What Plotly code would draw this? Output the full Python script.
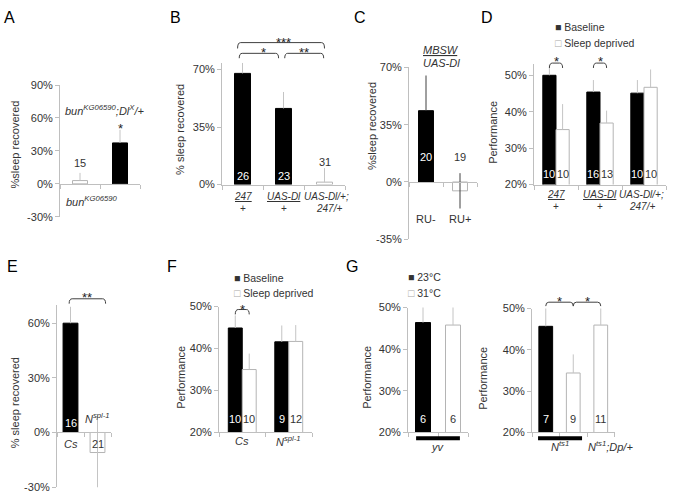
import plotly.graph_objects as go

W, H = 675, 499
FONT = "Arial, 'Liberation Sans', Helvetica, sans-serif"
TXT = "#333333"
AXC = "#bfbfbf"
ERR = "#c4c4c4"
ERR_DARK = "#404040"
BLK = "#000000"
WHT = "#ffffff"
OUTL = "#b4b4b4"
BRK = "#404040"

# ---------------- data ----------------
# A
A_vals = [3.0, 37.3]
A_err = [7.0, 12.0]
A_n = ["15", ""]
# B
B_cats_top = ["<u>247</u>", "<u>UAS-Dl</u>", "UAS-Dl/+;"]
B_cats_bot = ["+", "+", "247/+"]
B_vals = [67.6, 46.3, 1.5]
B_err = [6.4, 10.0, 8.5]
B_n = ["26", "23", "31"]
B_sig = [(0, 1, "*"), (1, 2, "**"), (0, 2, "***")]
# C
C_cats = ["RU-", "RU+"]
C_vals = [43.6, -5.4]
C_err = [21.5, 10.8]
C_n = ["20", "19"]
# D
D_cats_top = ["<u>247</u>", "<u>UAS-Dl</u>", "UAS-Dl/+;"]
D_cats_bot = ["+", "+", "247/+"]
D_base = [50.0, 45.4, 45.1]
D_base_err = [3.0, 3.3, 3.6]
D_sd = [35.1, 36.9, 46.7]
D_sd_err = [7.0, 3.4, 4.9]
D_n_base = ["10", "16", "10"]
D_n_sd = ["10", "13", "10"]
D_sig = [0, 1]
# E
E_cats = ["Cs", "N<sup>spl-1</sup>"]
E_vals = [60.0, -11.0]
E_err = [9.0, 21.0]
E_n = ["16", "21"]
# F
F_cats = ["Cs", "N<sup>spl-1</sup>"]
F_base = [44.9, 41.6]
F_base_err = [3.0, 3.9]
F_sd = [35.0, 41.7]
F_sd_err = [3.8, 3.9]
F_n_base = ["10", "9"]
F_n_sd = ["10", "12"]
F_sig = [0]
# G
G_temps = ["23°C", "31°C"]
G1_vals = [46.4, 45.8]
G1_err = [4.5, 5.0]
G1_n = ["6", "6"]
G2_vals = [45.7, 34.4, 46.0]
G2_err = [5.4, 4.5, 5.2]
G2_n = ["7", "9", "11"]
G2_sig = [(0, 1, "*"), (1, 2, "*")]

# ---------------- geometry (pixels) ----------------
PANELS = [
    ((60, 140), (0, 2), (90, 81, -30, 216), (-30, 90), [-30, 0, 30, 60, 90], True),
    ((222, 345), (0, 3), (70, 65, 0, 183), (0, 74), [0, 35, 70], False),
    ((409, 477), (0, 2), (70, 63, -35, 239), (-35, 70), [-35, 0, 35, 70], True),
    ((534, 666), (0, 3), (50, 71, 20, 183), (20, 53), [20, 30, 40, 50], False),
    ((57, 111), (0, 2), (60, 325, -30, 493), (-30, 70), [-30, 0, 30, 60], True),
    ((219, 312), (0, 2), (50, 308, 20, 437), (20, 50), [20, 30, 40, 50], False),
    ((408, 468), (0, 2), (50, 309, 20, 437), (20, 50), [20, 30, 40, 50], False),
    ((532, 614.5), (0, 3), (50, 310, 20, 437), (20, 50), [20, 30, 40, 50], False),
]


def py(p):
    return 1 - p / H


def pxp(p):
    return p / W


def ypix(i, v):
    _, _, (v1, p1, v2, p2), _, _, _ = PANELS[i]
    return p1 + (v - v1) * (p2 - p1) / (v2 - v1)


def unit(i):
    (a, b), (r0, r1), *_ = PANELS[i]
    return (b - a) / (r1 - r0)


fig = go.Figure()
layout = dict(width=W, height=H, margin=dict(l=0, r=0, t=0, b=0),
              paper_bgcolor="white", plot_bgcolor="white", barmode="overlay",
              showlegend=False, font=dict(family=FONT, size=11, color=TXT))

for i, (xs, xr, _, yr, yt, cross) in enumerate(PANELS):
    k = i + 1
    xd = [pxp(xs[0]), pxp(xs[1])]
    yd = [py(ypix(i, yr[0])), py(ypix(i, yr[1]))]
    xa = dict(domain=xd, range=list(xr), showline=True, linecolor=AXC, linewidth=1,
              ticks="outside", ticklen=4, tickcolor=AXC, tickmode="array",
              tickvals=list(range(xr[0], xr[1] + 1)), showticklabels=False,
              showgrid=False, zeroline=False, fixedrange=True)
    if cross:
        xa.update(anchor="free", position=py(ypix(i, 0)))
    else:
        xa.update(anchor="y" if k == 1 else f"y{k}")
    ya = dict(domain=yd, range=list(yr), showline=True, linecolor=AXC, linewidth=1,
              ticks="outside", ticklen=4, tickcolor=AXC, tickmode="array",
              tickvals=yt, ticktext=[f"{v}%" for v in yt],
              tickfont=dict(size=11, color=TXT, family=FONT),
              showgrid=False, zeroline=False, fixedrange=True,
              anchor="x" if k == 1 else f"x{k}")
    layout["xaxis" if k == 1 else f"xaxis{k}"] = xa
    layout["yaxis" if k == 1 else f"yaxis{k}"] = ya


def axn(i):
    k = i + 1
    return ("x" if k == 1 else f"x{k}"), ("y" if k == 1 else f"y{k}")


def centers(n):
    return [j + 0.5 for j in range(n)]


def bar(i, x, y, width, colors, err, errminus, errc=ERR, offset=None, clip=True):
    xr, yr = axn(i)
    lines = [BLK if c == BLK else OUTL for c in colors]
    fig.add_trace(go.Bar(
        x=x, y=y, width=width, offset=offset, xaxis=xr, yaxis=yr,
        marker=dict(color=colors, line=dict(color=lines, width=1)),
        error_y=dict(type="data", array=err, arrayminus=errminus, symmetric=False,
                     color=errc, thickness=1, width=0),
        cliponaxis=clip, showlegend=False, hoverinfo="skip"))


annots = []
shapes = []


def T(text, xref, x, ypx, size=11, color=TXT, xanchor="center", yanchor="middle", angle=0):
    annots.append(dict(text=text, xref=xref, x=x, yref="paper", y=py(ypx),
                       showarrow=False, xanchor=xanchor, yanchor=yanchor, textangle=angle,
                       font=dict(size=size, color=color, family=FONT)))


def bracket(i, x0, x1, ytop, drop=5):
    xr, _ = axn(i)
    r = 3.0 / unit(i)
    yt, yb = py(ytop), py(ytop + drop)
    path = (f"M{x0},{yb} Q{x0},{yt} {x0 + r},{yt} L{x1 - r},{yt} "
            f"Q{x1},{yt} {x1},{yb}")
    shapes.append(dict(type="path", path=path, xref=xr, yref="paper",
                       line=dict(color=BRK, width=1)))


def star(i, x, ypx, s):
    T(s, axn(i)[0], x, ypx + 4, size=13, color="#222222")


LET = 16

# ---------- A ----------
i = 0
cA = centers(2)
bar(i, cA, A_vals, 0.375, [WHT, BLK], A_err, [0, 0])
T(A_n[0], "x", cA[0], 161)
star(i, cA[1], 122, "*")
T("<i>bun<sup>KG06590</sup>;Dl<sup>X</sup>/+</i>", "paper", pxp(104), 107, size=11)
T("<i>bun<sup>KG06590</sup></i>", "paper", pxp(92), 200, size=11)
T("%sleep recovered", "paper", pxp(15), 142, angle=-90)
T("A", "paper", pxp(9), 12, size=LET, color=BLK)

# ---------- B ----------
i = 1
cB = centers(3)
bar(i, cB, B_vals, 0.39, [BLK, BLK, WHT], B_err, [0, 0, 0])
for j, n in enumerate(B_n):
    if j < 2:
        T(n, "x2", cB[j], 174, color=WHT)
    else:
        T(n, "x2", cB[j], 160)
for j in range(3):
    T(f"<i>{B_cats_top[j]}</i>", "x2", cB[j] + (0.05 if j == 2 else 0), 195, size=10)
    T(f"<i>{B_cats_bot[j]}</i>" if j == 2 else B_cats_bot[j], "x2",
      cB[j] + (0.12 if j == 2 else 0), 207, size=10)
for (a, b, s) in B_sig:
    if b - a == 1:
        x0 = cB[a] + (0.03 if a > 0 else -0.08)
        x1 = cB[b] - (0.12 if b < 2 else 0.02)
        bracket(i, x0, x1, 48.5)
        star(i, (cB[a] + cB[b]) / 2, 44, s)
    else:
        bracket(i, cB[a] - 0.12, cB[b], 37.5, drop=6)
        star(i, (cB[a] + cB[b]) / 2, 33, s)
T("% sleep recovered", "paper", pxp(180), 127, angle=-90)
T("B", "paper", pxp(176), 12, size=LET, color=BLK)

# ---------- C ----------
i = 2
cC = centers(2)
bar(i, cC, C_vals, 0.44, [BLK, WHT], C_err, [0, C_err[1]], errc=ERR_DARK)
T(C_n[0], "x3", cC[0], 155, color=WHT)
T(C_n[1], "x3", cC[1], 155)
for j, c in enumerate(C_cats):
    T(c, "x3", cC[j], 218)
T("<i><u>MBSW</u></i>", "x3", 0.95, 45, size=11)
T("<i>UAS-Dl</i>", "x3", 0.95, 58, size=11)
T("%sleep recovered", "paper", pxp(372), 123, angle=-90)
T("C", "paper", pxp(360), 12, size=LET, color=BLK)

# ---------- D ----------
i = 3
cD = centers(3)
wD = 0.3
bar(i, cD, D_base, wD, [BLK] * 3, D_base_err, [0] * 3, offset=-wD)
bar(i, cD, D_sd, wD, [WHT] * 3, D_sd_err, [0] * 3, offset=0)
for j in range(3):
    T(D_n_base[j], "x4", cD[j] - wD / 2, 172, color=WHT)
    T(D_n_sd[j], "x4", cD[j] + wD / 2, 172)
    dx = -0.05 if j == 2 else 0
    T(f"<i>{D_cats_top[j]}</i>", "x4", cD[j] + dx, 193, size=10)
    T(f"<i>{D_cats_bot[j]}</i>" if j == 2 else D_cats_bot[j], "x4", cD[j] + dx, 205, size=10)
for j in D_sig:
    bracket(i, cD[j] - wD / 2, cD[j] + wD / 2, 58.5)
    star(i, cD[j], 53, "*")
T("■ Baseline", "paper", pxp(553), 22, size=10.5, xanchor="left")
T("<span style='color:#aaaaaa'>□</span> Sleep deprived", "paper", pxp(553), 38, size=10.5,
  xanchor="left")
T("Performance", "paper", pxp(493), 130, angle=-90)
T("D", "paper", pxp(487), 12, size=LET, color=BLK)

# ---------- E ----------
i = 4
cE = centers(2)
bar(i, cE, E_vals, 0.55, [BLK, WHT], E_err, [0, E_err[1]], clip=False)
T(E_n[0], "x5", cE[0], 427, color=WHT)
T(E_n[1], "x5", cE[1], 449)
T(f"<i>{E_cats[0]}</i>", "x5", cE[0], 449)
T(f"<i>{E_cats[1]}</i>", "x5", cE[1], 422)
bracket(i, cE[0] - 0.05, cE[1] + 0.3, 300)
star(i, (cE[0] + cE[1]) / 2 + 0.12, 295, "**")
T("% sleep recovered", "paper", pxp(15), 407, angle=-90)
T("E", "paper", pxp(12), 267, size=LET, color=BLK)

# ---------- F ----------
i = 5
cF = centers(2)
wF = 0.3
bar(i, cF, F_base, wF, [BLK] * 2, F_base_err, [0] * 2, offset=-wF)
bar(i, cF, F_sd, wF, [WHT] * 2, F_sd_err, [0] * 2, offset=0)
for j in range(2):
    T(F_n_base[j], "x6", cF[j] - wF / 2, 423, color=WHT)
    T(F_n_sd[j], "x6", cF[j] + wF / 2, 423)
    T(f"<i>{F_cats[j]}</i>", "x6", cF[j], 446)
for j in F_sig:
    bracket(i, cF[j] - wF / 2, cF[j] + wF / 2, 311)
    star(i, cF[j], 307, "*")
T("■ Baseline", "paper", pxp(232), 279, size=10.5, xanchor="left")
T("<span style='color:#aaaaaa'>□</span> Sleep deprived", "paper", pxp(232), 294, size=10.5,
  xanchor="left")
T("Performance", "paper", pxp(181), 381, angle=-90)
T("F", "paper", pxp(172), 267, size=LET, color=BLK)

# ---------- G (left) ----------
i = 6
cG1 = centers(2)
bar(i, cG1, G1_vals, 0.5, [BLK, WHT], G1_err, [0, 0])
T(G1_n[0], "x7", cG1[0], 423, color=WHT)
T(G1_n[1], "x7", cG1[1], 423)
shapes.append(dict(type="line", xref="x7", yref="paper", x0=cG1[0] - 0.23, x1=cG1[1] + 0.23,
                   y0=py(443), y1=py(443), line=dict(color=BLK, width=4)))
T("<i>yv</i>", "x7", 1.0, 452)
T(f"■ {G_temps[0]}", "paper", pxp(406), 278, size=10.5, xanchor="left")
T(f"<span style='color:#aaaaaa'>□</span> {G_temps[1]}", "paper", pxp(406), 294, size=10.5,
  xanchor="left")
T("Performance", "paper", pxp(367), 381, angle=-90)
T("G", "paper", pxp(352), 267, size=LET, color=BLK)

# ---------- G (right) ----------
i = 7
cG2 = centers(3)
bar(i, cG2, G2_vals, 0.5, [BLK, WHT, WHT], G2_err, [0, 0, 0])
T(G2_n[0], "x8", cG2[0], 423, color=WHT)
T(G2_n[1], "x8", cG2[1], 423)
T(G2_n[2], "x8", cG2[2], 423)
shapes.append(dict(type="line", xref="x8", yref="paper", x0=cG2[0] - 0.28, x1=cG2[1] + 0.32,
                   y0=py(443), y1=py(443), line=dict(color=BLK, width=4)))
T("<i>N<sup>ts1</sup></i>", "x8", 1.0, 451)
T("<i>N<sup>ts1</sup>;Dp/+</i>", "x8", 2.84, 451)
for (a, b, s) in G2_sig:
    bracket(i, cG2[a], cG2[b], 303.5, drop=4)
    star(i, (cG2[a] + cG2[b]) / 2, 299, s)
T("Performance", "paper", pxp(483), 381, angle=-90)

layout["annotations"] = annots
layout["shapes"] = shapes
fig.update_layout(**layout)
fig.write_html("out.html",
               config={"displayModeBar": False},
               post_script="document.body.style.margin='0';")
